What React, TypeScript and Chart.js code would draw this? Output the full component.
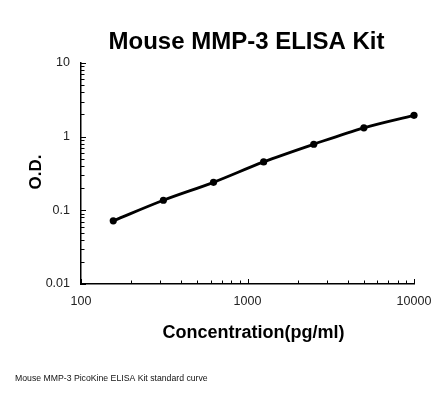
import React, { useEffect, useRef } from "react";
import { Chart, registerables } from "chart.js";

Chart.register(...registerables);

const concentrations = [156.25, 312.5, 625, 1250, 2500, 5000, 10000];
const odValues = [0.072, 0.137, 0.24, 0.454, 0.789, 1.32, 1.95];
const xTickLabels = [100, 1000, 10000];
const yTickLabels = [0.01, 0.1, 1, 10];

const chartTitle = "Mouse MMP-3 ELISA Kit";
const xTitle = "Concentration(pg/ml)";
const yTitle = "O.D.";
const footnote = "Mouse MMP-3 PicoKine ELISA Kit standard curve";

const FONT = "'Liberation Sans', Arial, sans-serif";

const innerTicks = {
  id: "innerTicks",
  afterDraw(chart: any) {
    const { ctx, scales } = chart;
    const xs = scales.x;
    const ys = scales.y;
    ctx.save();
    ctx.strokeStyle = "#000";
    ctx.lineWidth = 1;
    for (let d = -2; d <= 1; d++) {
      for (let k = 1; k <= 9; k++) {
        const v = k * Math.pow(10, d);
        if (v < ys.min - 1e-12 || v > ys.max + 1e-12) continue;
        const py = Math.round(ys.getPixelForValue(v)) + 0.5;
        const len = k === 1 ? 5 : 3.5;
        ctx.beginPath();
        ctx.moveTo(xs.left, py);
        ctx.lineTo(xs.left + len, py);
        ctx.stroke();
      }
    }
    for (let d = 2; d <= 4; d++) {
      for (let k = 1; k <= 9; k++) {
        const v = k * Math.pow(10, d);
        if (v < xs.min - 1e-9 || v > xs.max + 1e-9) continue;
        const px = Math.round(xs.getPixelForValue(v)) + 0.5;
        const len = k === 1 ? 5 : 3.5;
        ctx.beginPath();
        ctx.moveTo(px, ys.bottom);
        ctx.lineTo(px, ys.bottom - len);
        ctx.stroke();
      }
    }
    ctx.restore();
  },
};

const texts = {
  id: "texts",
  afterDraw(chart: any) {
    const { ctx } = chart;
    ctx.save();
    ctx.fillStyle = "#000";
    ctx.textAlign = "center";
    ctx.textBaseline = "alphabetic";
    ctx.font = `bold 24px ${FONT}`;
    ctx.fillText(chartTitle, 246.5, 49);
    ctx.font = `bold 18px ${FONT}`;
    ctx.fillText(xTitle, 253.5, 338);
    ctx.save();
    ctx.translate(36, 172);
    ctx.rotate(-Math.PI / 2);
    ctx.textBaseline = "middle";
    ctx.font = `bold 17px ${FONT}`;
    ctx.fillText(yTitle, 0, 0);
    ctx.restore();
    ctx.textAlign = "left";
    ctx.font = `8.7px ${FONT}`;
    ctx.fillStyle = "#111";
    ctx.fillText(footnote, 15, 381);
    ctx.restore();
  },
};

export default function App() {
  const ref = useRef<HTMLCanvasElement | null>(null);
  useEffect(() => {
    if (!ref.current) return;
    const chart = new Chart(ref.current, {
      type: "line",
      data: {
        datasets: [
          {
            data: concentrations.map((c, i) => ({ x: c, y: odValues[i] })),
            borderColor: "#000",
            backgroundColor: "#000",
            borderWidth: 2.8,
            pointRadius: 3.6,
            pointBackgroundColor: "#000",
            pointBorderWidth: 0,
            cubicInterpolationMode: "monotone",
            fill: false,
            clip: false,
          } as any,
        ],
      },
      options: {
        animation: false,
        responsive: false,
        layout: { padding: { top: 63, right: 32, left: 0, bottom: 0 } },
        plugins: { legend: { display: false }, tooltip: { enabled: false }, title: { display: false } },
        scales: {
          x: {
            type: "logarithmic",
            min: 100,
            max: 10000,
            grid: { display: false, drawTicks: false },
            border: { display: true, color: "#000", width: 1.5 },
            afterFit: (s: any) => {
              s.height = 110;
            },
            afterBuildTicks: (s: any) => {
              s.ticks = xTickLabels.map((v) => ({ value: v }));
            },
            ticks: {
              padding: 10,
              maxRotation: 0,
              autoSkip: false,
              color: "#222",
              font: { family: FONT, size: 12.5 },
              callback: (v: any) => String(v),
            },
          },
          y: {
            type: "logarithmic",
            min: 0.01,
            max: 10,
            grid: { display: false, drawTicks: false },
            border: { display: true, color: "#000", width: 1.5 },
            afterFit: (s: any) => {
              s.width = 81;
            },
            afterBuildTicks: (s: any) => {
              s.ticks = yTickLabels.map((v) => ({ value: v }));
            },
            ticks: {
              padding: 11,
              autoSkip: false,
              color: "#222",
              font: { family: FONT, size: 12.5 },
              callback: (v: any) => String(v),
            },
          },
        },
      } as any,
      plugins: [innerTicks, texts],
    });
    return () => chart.destroy();
  }, []);
  return (
    <div style={{ position: "absolute", left: 0, top: 0, width: 446, height: 394, background: "#fff" }}>
      <canvas ref={ref} width={446} height={394} style={{ width: 446, height: 394 }} />
    </div>
  );
}
